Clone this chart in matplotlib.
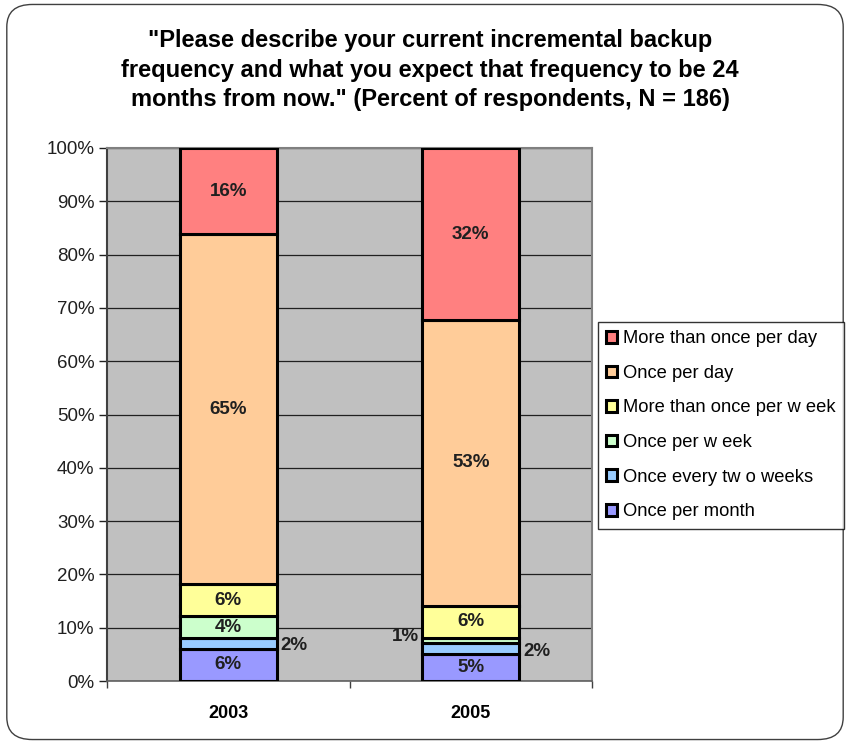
import numpy as np
import matplotlib.pyplot as plt
from matplotlib.patches import FancyBboxPatch

plt.rcParams['font.family'] = ['Liberation Sans', 'DejaVu Sans']

years = ['2003', '2005']
series = [
    'Once per month',
    'Once every tw o weeks',
    'Once per w eek',
    'More than once per w eek',
    'Once per day',
    'More than once per day',
]
values = {
    'Once per month': [6, 5],
    'Once every tw o weeks': [2, 2],
    'Once per w eek': [4, 1],
    'More than once per w eek': [6, 6],
    'Once per day': [65, 53],
    'More than once per day': [16, 32],
}
colors = ['#9999FF', '#99CCFF', '#CCFFCC', '#FFFF99', '#FFCC99', '#FF8080']

title = ('"Please describe your current incremental backup\n'
         'frequency and what you expect that frequency to be 24\n'
         'months from now." (Percent of respondents, N = 186)')

fig = plt.figure(figsize=(8.5, 7.44), dpi=100)
frame = FancyBboxPatch((0.008, 0.006), 0.984, 0.988,
                       boxstyle='round,pad=0,rounding_size=0.03',
                       transform=fig.transFigure, fill=False,
                       edgecolor='#404040', linewidth=1.0)
fig.patches.append(frame)

ax = fig.add_axes([107 / 850, 1 - 681 / 744, 485 / 850, 533 / 744])
ax.set_facecolor('#C0C0C0')

x = np.arange(len(years))
totals = np.sum([values[s] for s in series], axis=0)
bottom = np.zeros(len(years))
bars = {}
lab_fs = 13.5
for s, c in zip(series, colors):
    v = np.array(values[s], dtype=float) / totals * 100
    bars[s] = ax.bar(x, v, 0.40, bottom=bottom, color=c, edgecolor='black',
                     linewidth=2.2, label=s, zorder=3)
    for i in range(len(years)):
        yc = bottom[i] + v[i] / 2
        txt = f'{values[s][i]}%'
        if values[s][i] >= 3:
            ax.text(x[i], yc, txt, ha='center', va='center', fontsize=lab_fs,
                    fontweight='bold', color='#202020', zorder=4)
        elif s == 'Once per w eek':
            ax.text(x[i] - 0.215, yc + 0.8, txt, ha='right', va='center',
                    fontsize=lab_fs, fontweight='bold', color='#202020', zorder=4)
        else:
            ax.text(x[i] + 0.215, yc - 0.5, txt, ha='left', va='center',
                    fontsize=lab_fs, fontweight='bold', color='#202020', zorder=4)
    bottom += v

ax.set_xlim(-0.5, 1.5)
ax.set_ylim(0, 100)
ax.set_yticks(np.arange(0, 101, 10))
ax.set_yticklabels([f'{t}%' for t in range(0, 101, 10)], fontsize=13.5,
                   color='#202020')
ax.yaxis.grid(True, color='#202020', linewidth=0.9, zorder=0)
ax.set_axisbelow(True)
ax.set_xticks(x)
ax.set_xticklabels(years, fontsize=13, fontweight='bold')
ax.set_xticks([-0.5, 0.5, 1.5], minor=True)
ax.tick_params(axis='x', which='major', length=0, pad=17)
ax.tick_params(axis='x', which='minor', length=5, width=1, color='#404040')
ax.tick_params(axis='y', length=6, width=1, color='#202020', pad=3)
for side in ['top', 'right']:
    ax.spines[side].set_color('#808080')
    ax.spines[side].set_linewidth(1.5)
ax.spines['left'].set_color('#404040')
ax.spines['left'].set_linewidth(1.5)
ax.spines['bottom'].set_color('#606060')
ax.spines['bottom'].set_linewidth(1.2)

handles = [bars[s] for s in series[::-1]]
leg = fig.legend(handles, series[::-1], loc='upper left',
                 bbox_to_anchor=(598 / 850, 1 - 322 / 744),
                 bbox_transform=fig.transFigure, fontsize=13.2,
                 frameon=True, fancybox=False, edgecolor='black',
                 handlelength=0.6, handleheight=0.6, handletextpad=0.3,
                 labelspacing=0.96, borderpad=0.45, borderaxespad=0)
leg.get_frame().set_linewidth(1.0)

fig.text(0.506, 1 - 70 / 744, title, ha='center', va='center',
         fontsize=17, fontweight='bold', linespacing=1.36)

fig.savefig('out.png', dpi=100)
